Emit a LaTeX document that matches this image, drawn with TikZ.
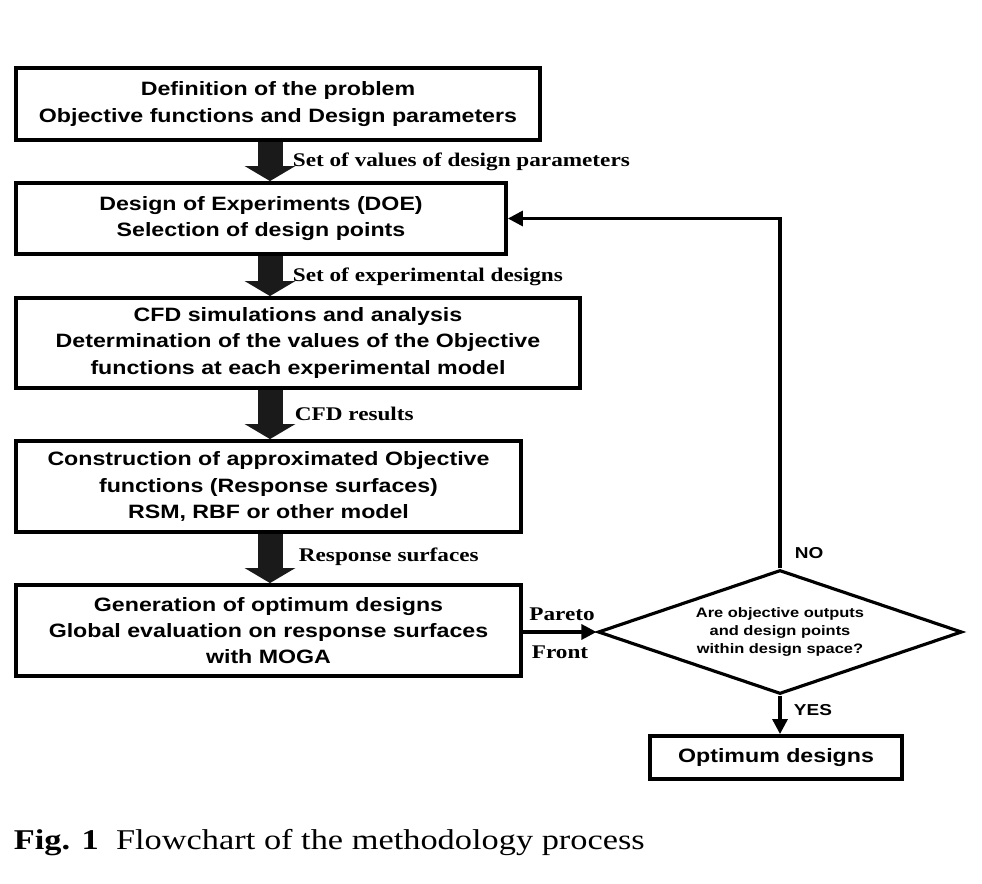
\documentclass[tikz,border=0pt]{standalone}
\usepackage{fontspec}
\setmainfont[FakeStretch=1.2]{Liberation Serif}
\setsansfont[FakeStretch=1.2]{Liberation Sans}
\usetikzlibrary{arrows.meta, positioning, shapes.geometric, calc}
\definecolor{cdark}{HTML}{1A1A1A}
\tikzset{
  every picture/.style={line width=2.2pt},
  box/.style={draw=black, fill=white, align=center, inner sep=0pt, font=\sffamily\bfseries\fontsize{11}{15}\selectfont},
  check/.style={draw=black, diamond, aspect=2.94, inner sep=0pt, line width=1.8pt, minimum width=7.28cm, minimum height=2.48cm, align=center, font=\sffamily\bfseries\fontsize{7.8}{10.2}\selectfont},
  blockarrow/.style={-{Triangle[length=0.3cm, width=1cm]}, draw=cdark, line width=0.5cm},
  arrow/.style={-{Triangle[length=0.3cm, width=0.3cm]}, draw=black, line width=1.8pt},
  label/.style={font=\rmfamily\bfseries\fontsize{11}{13}\selectfont, anchor=west, inner sep=0pt},
  answer/.style={font=\sffamily\bfseries\fontsize{9}{11}\selectfont, anchor=west, inner sep=0pt},
}

\begin{document}
\begin{tikzpicture}[x=0.02cm, y=-0.02cm]
  \useasboundingbox (0,0) rectangle (982,884);
  \coordinate (ax) at (270,0);
  % main column
  \node[box, minimum width=10.48cm, minimum height=1.44cm] (def) at (278,104) {Definition of the problem\\Objective functions and Design parameters};
  \node[box, minimum width=9.8cm, minimum height=1.42cm] (doe) at (261,218.5) {Design of Experiments (DOE)\\Selection of design points};
  \node[box, minimum width=11.28cm, minimum height=1.8cm] (cfd) at (298,343) {CFD simulations and analysis\\Determination of the values of the Objective\\functions at each experimental model};
  \node[box, minimum width=10.1cm, minimum height=1.82cm] (rsm) at (268.5,486.5) {Construction of approximated Objective\\functions (Response surfaces)\\RSM, RBF or other model};
  \node[box, minimum width=10.1cm, minimum height=1.82cm] (gen) at (268.5,630.5) {Generation of optimum designs\\Global evaluation on response surfaces\\with MOGA};
  \draw[blockarrow] (def.south -| ax) -- (doe.north -| ax);
  \draw[blockarrow] (doe.south -| ax) -- (cfd.north -| ax);
  \draw[blockarrow] (cfd.south -| ax) -- (rsm.north -| ax);
  \draw[blockarrow] (rsm.south -| ax) -- (gen.north -| ax);
  \node[label] (l1) at (291,162) {Set of values of design parameters};
  \node[label] (l2) at (291,277) {Set of experimental designs};
  \node[label] (l3) at (293,414) {CFD results};
  \node[label] (l4) at (297,557) {Response surfaces};
  % check and loop back
  \node[check] (chk) at (780,632) {Are objective outputs\\and design points\\within design space?};
  \draw[arrow] (gen.east |- chk.west) -- (chk.west);
  \node[label, anchor=center] (par) at (562,614) {Pareto};
  \node[label, anchor=center] (fro) at (560,652) {Front};
  \draw[arrow] (chk.north) |- (doe.east);
  \node[answer] (no) at (793,553) {NO};
  \node[box, minimum width=5.04cm, minimum height=0.86cm, font=\sffamily\bfseries\fontsize{11}{15}\selectfont] (opt) at (776,757.5) {Optimum designs};
  \draw[arrow] (chk.south) -- (opt.north -| chk.south);
  \node[answer] (yes) at (792,710) {YES};
  % caption
  \node[anchor=west, inner sep=0pt, font=\rmfamily\fontsize{16.3}{20}\selectfont] (cap) at (12,843) {\textbf{Fig. 1}\ \ Flowchart of the methodology process};
\end{tikzpicture}
\end{document}
